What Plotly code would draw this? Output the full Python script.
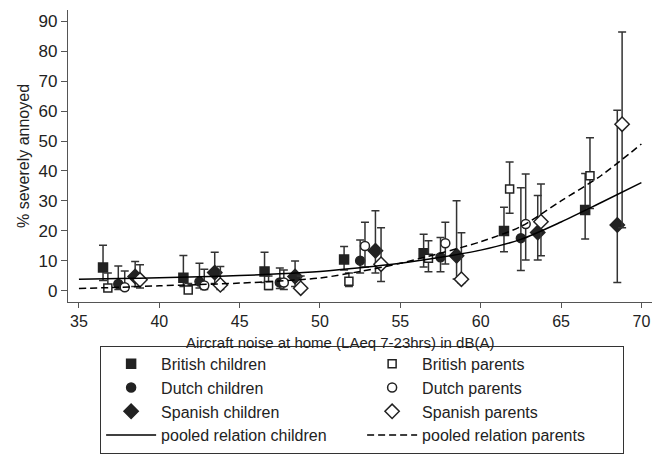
import plotly.graph_objects as go

# ---- data ----
bc_x = [36.5, 41.5, 46.55, 51.5, 56.45, 61.45, 66.5]
bc_y = [7.8, 4.4, 6.5, 10.5, 12.6, 20.0, 27.0]
bc_hi = [15.2, 11.8, 12.9, 14.8, 18.9, 27.9, 39.2]
bc_lo = [3.5, 1.5, 2.8, 7.0, 8.0, 13.1, 17.3]

bp_x = [36.8, 41.8, 46.8, 51.8, 56.75, 61.8, 66.8]
bp_y = [1.0, 0.3, 1.8, 3.2, 10.9, 34.0, 38.4]
bp_hi = [6.0, 2.5, 5.0, 6.0, 16.7, 43.0, 51.1]
bp_lo = [0.2, 0.0, 0.5, 1.5, 6.4, 25.9, 27.5]

dc_x = [37.45, 42.5, 47.5, 52.5, 57.5, 62.5]
dc_y = [2.3, 3.1, 2.8, 10.1, 11.2, 17.6]
dc_hi = [8.3, 9.2, 7.6, 17.0, 17.8, 34.4]
dc_lo = [0.5, 1.0, 0.8, 6.0, 6.4, 6.8]

dp_x = [37.85, 42.8, 47.75, 52.8, 57.8, 62.8]
dp_y = [1.2, 1.8, 2.8, 15.0, 15.9, 22.3]
dp_hi = [6.6, 7.2, 7.0, 22.9, 22.9, 39.0]
dp_lo = [0.2, 0.5, 0.5, 8.0, 9.0, 10.3]

sc_x = [38.5, 43.45, 48.45, 53.45, 58.5, 63.55, 68.5]
sc_y = [4.8, 6.1, 4.8, 13.4, 11.7, 19.5, 22.0]
sc_hi = [9.8, 12.9, 10.0, 26.7, 30.1, 31.8, 60.3]
sc_lo = [1.5, 2.5, 1.5, 6.0, 4.0, 10.3, 2.8]

sp_x = [38.8, 43.8, 48.8, 53.8, 58.8, 63.75, 68.8]
sp_y = [3.7, 2.0, 0.9, 8.9, 3.9, 23.1, 55.6]
sp_hi = [8.7, 8.1, 5.0, 21.1, 19.4, 35.7, 86.4]
sp_lo = [1.0, 0.5, 0.0, 3.1, 2.6, 11.7, 21.1]

curve_x = [35, 37.5, 40, 42.5, 45, 47.5, 50, 52.5, 55, 57.5, 60, 62.5, 65, 67.5, 70]
child_curve = [3.9, 4.1, 4.4, 4.7, 5.1, 5.7, 6.5, 7.7, 9.2, 11.2, 13.6, 17.2, 23.0, 29.5, 36.1]
parent_curve = [0.8, 1.2, 1.7, 2.1, 2.6, 3.3, 4.3, 6.5, 9.2, 12.6, 16.4, 21.5, 30.0, 38.5, 49.0]

x_ticks = [35, 40, 45, 50, 55, 60, 65, 70]
y_ticks = [0, 10, 20, 30, 40, 50, 60, 70, 80, 90]

INK = "#222222"
FONT = "Liberation Sans, Arial, sans-serif"

fig = go.Figure()


def add_group(name, xs, ys, hi, lo, symbol, filled, size):
    fig.add_trace(go.Scatter(
        x=xs, y=ys, mode="markers", name=name,
        marker=dict(symbol=symbol, size=size,
                    color=INK if filled else "white",
                    line=dict(color=INK, width=1.5)),
        error_y=dict(type="data", symmetric=False,
                     array=[h - v for h, v in zip(hi, ys)],
                     arrayminus=[v - l for v, l in zip(ys, lo)],
                     color="#333333", thickness=1.5, width=4),
    ))


add_group("British children", bc_x, bc_y, bc_hi, bc_lo, "square", True, 9)
add_group("British parents", bp_x, bp_y, bp_hi, bp_lo, "square", False, 8)
add_group("Dutch children", dc_x, dc_y, dc_hi, dc_lo, "circle", True, 9)
add_group("Dutch parents", dp_x, dp_y, dp_hi, dp_lo, "circle", False, 9)
add_group("Spanish children", sc_x, sc_y, sc_hi, sc_lo, "diamond", True, 11)
add_group("Spanish parents", sp_x, sp_y, sp_hi, sp_lo, "diamond", False, 11)

fig.add_trace(go.Scatter(x=curve_x, y=child_curve, mode="lines",
                         name="pooled relation children",
                         line=dict(color="black", width=1.5, shape="spline", smoothing=0.8)))
fig.add_trace(go.Scatter(x=curve_x, y=parent_curve, mode="lines",
                         name="pooled relation parents",
                         line=dict(color="black", width=1.5, dash="7px,4px",
                                   shape="spline", smoothing=0.8)))

fig.update_layout(
    width=662, height=460,
    margin=dict(l=68, r=10, t=10, b=158, autoexpand=False),
    paper_bgcolor="white", plot_bgcolor="white",
    font=dict(family=FONT, color=INK, size=16),
    showlegend=True,
    legend=dict(orientation="h", x=0.055, y=-0.150, xanchor="left", yanchor="top",
                bordercolor="#333333", borderwidth=1, bgcolor="white",
                entrywidth=196, entrywidthmode="pixels", itemwidth=50,
                font=dict(size=16, family=FONT, color=INK), traceorder="normal"),
    xaxis=dict(range=[34.32, 70.66], tickvals=x_ticks, ticks="outside", ticklen=5,
               tickcolor="#555555", showline=True, linecolor="#555555", linewidth=1.2,
               showgrid=False, zeroline=False, tickfont=dict(size=16)),
    yaxis=dict(range=[-3.7, 93.7], tickvals=y_ticks, ticks="outside", ticklen=6,
               tickcolor="#555555", showline=True, linecolor="#555555", linewidth=1.2,
               showgrid=False, zeroline=False, tickfont=dict(size=17),
               title=dict(text="% severely annoyed", font=dict(size=16), standoff=4)),
    annotations=[dict(text="Aircraft noise at home (LAeq 7-23hrs) in dB(A)",
                      xref="paper", yref="paper", x=0.466, y=-0.137,
                      xanchor="center", yanchor="middle", showarrow=False,
                      borderpad=0, font=dict(size=15))],
)

fig.write_html("out.html")
